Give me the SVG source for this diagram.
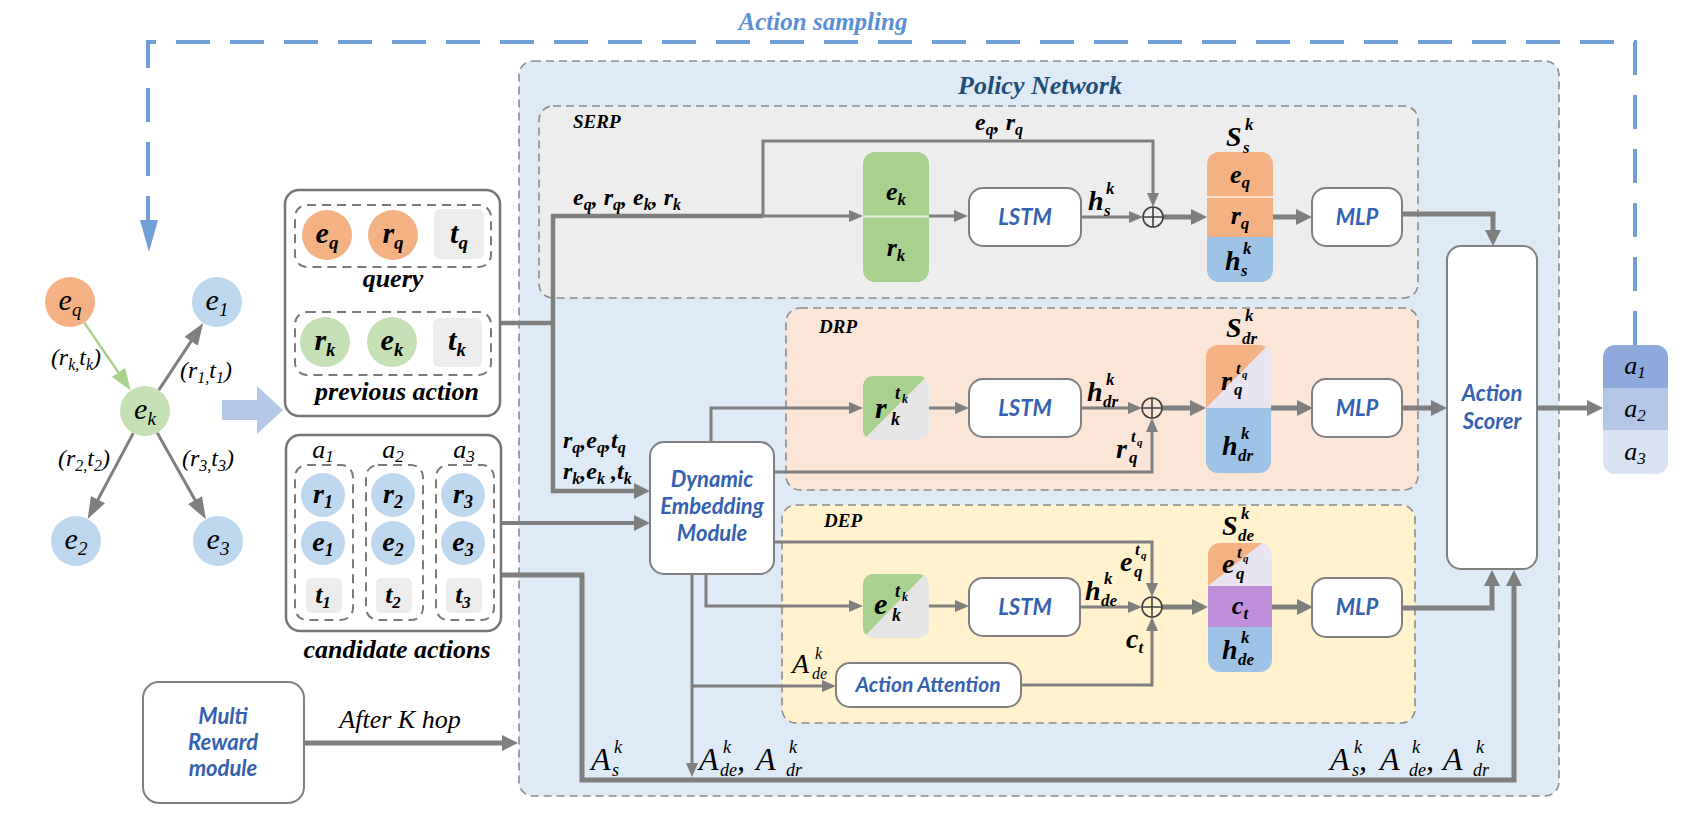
<svg xmlns="http://www.w3.org/2000/svg" width="1704" height="834" viewBox="0 0 1704 834">
<style>
.t{font-family:"Liberation Serif","Times New Roman",serif;fill:#000}
.bi{font-weight:bold;font-style:italic}
.it{font-style:italic}
.lbl{font-family:Lato,"Open Sans",sans-serif;font-weight:bold;font-style:italic;fill:#3461b0;font-size:22px;text-anchor:middle}
.ln{stroke:#7f7f7f;stroke-width:3;fill:none}
.tk{stroke:#7f7f7f;stroke-width:5;fill:none}
.box{fill:#fff;stroke:#808080;stroke-width:2}
.reg{stroke:#8c8c8c;stroke-width:1.6;stroke-dasharray:8 5}
.grp{fill:#fff;stroke:#767676;stroke-width:2.5}
.dsh{fill:none;stroke:#7a7a7a;stroke-width:2;stroke-dasharray:9 6}
.or{fill:#f4b183}.bl{fill:#bdd7ee}.gr{fill:#c5e0b4}.gy{fill:#ececec}
.plus{fill:none;stroke:#404040;stroke-width:1.6}
</style>
<defs>
<marker id="ar" viewBox="0 0 14 12" refX="8" refY="6" markerWidth="14" markerHeight="12" markerUnits="userSpaceOnUse" orient="auto"><path d="M0,0 L14,6 L0,12 z" fill="#7f7f7f"/></marker>
<marker id="arB" viewBox="0 0 16 16" refX="10" refY="8" markerWidth="16" markerHeight="16" markerUnits="userSpaceOnUse" orient="auto"><path d="M0,0 L16,8 L0,16 z" fill="#7f7f7f"/></marker>
<marker id="arL" viewBox="0 0 22 16" refX="16" refY="8" markerWidth="22" markerHeight="16" markerUnits="userSpaceOnUse" orient="auto"><path d="M0,0 L22,8 L0,16 z" fill="#7f7f7f"/></marker>
<marker id="arG" viewBox="0 0 22 16" refX="16" refY="8" markerWidth="22" markerHeight="16" markerUnits="userSpaceOnUse" orient="auto"><path d="M0,0 L22,8 L0,16 z" fill="#a9d18e"/></marker>
<clipPath id="cS"><rect x="1207" y="152" width="66" height="130" rx="12"/></clipPath>
<clipPath id="cDR"><rect x="1206" y="345" width="65" height="128" rx="12"/></clipPath>
<clipPath id="cDE"><rect x="1208" y="543" width="64" height="129" rx="12"/></clipPath>
<clipPath id="cRk"><rect x="863" y="376" width="66" height="64" rx="10"/></clipPath>
<clipPath id="cEk"><rect x="863" y="574" width="66" height="64" rx="10"/></clipPath>
<clipPath id="cA"><rect x="1603" y="345" width="65" height="129" rx="12"/></clipPath>
</defs>

<!-- Action sampling feedback -->
<g id="action-sampling">
<path d="M1635,345 V42 H148 V222" fill="none" stroke="#6f9fd6" stroke-width="4" stroke-dasharray="34 20"/>
<polygon points="140,220 158,220 149,252" fill="#6f9fd6"/>
<text class="t bi" x="823" y="30" font-size="25" text-anchor="middle" style="fill:#5b8fd6">Action sampling</text>
</g>

<!-- Policy network region -->
<g id="policy-network">
<rect x="519" y="61" width="1040" height="735" rx="14" fill="#deeaf6" class="reg"/>
<text class="t bi" x="1040" y="94" font-size="26" text-anchor="middle" style="fill:#1f4e79">Policy Network</text>
</g>
<g id="serp-region">
<rect x="539" y="106" width="879" height="192" rx="14" fill="#ededed" class="reg"/>
<text class="t bi" x="573" y="128" font-size="19">SERP</text>
</g>
<g id="drp-region">
<rect x="786" y="308" width="632" height="182" rx="14" fill="#fbe5d6" class="reg"/>
<text class="t bi" x="819" y="333" font-size="19">DRP</text>
</g>
<g id="dep-region">
<rect x="782" y="505" width="633" height="218" rx="14" fill="#fff2cc" class="reg"/>
<text class="t bi" x="824" y="527" font-size="19">DEP</text>
</g>

<!-- Connectors -->
<g id="connectors">
<path d="M84.2,322.6 L127.4,385.5" fill="none" stroke="#a9d18e" stroke-width="2.5" marker-end="url(#arG)"/>
<path class="ln" d="M158.8,390.1 L199.9,327.9" marker-end="url(#arL)"/>
<path class="ln" d="M133.3,433.1 L90.5,513.6" marker-end="url(#arL)"/>
<path class="ln" d="M157.2,432.8 L202.9,514" marker-end="url(#arL)"/>
<polygon points="222,400 257,400 257,386 283,410 257,434 257,420 222,420" fill="#b4c7e7"/>

<path class="tk" style="stroke-width:4.5" d="M500,323 H553"/>
<path class="tk" style="stroke-width:4.5" d="M763,216 H553 V491 H644" marker-end="url(#arB)"/>
<path class="ln" d="M763,216 H857" marker-end="url(#ar)"/>
<path class="ln" d="M763,216 V141 H1153 V201" marker-end="url(#ar)"/>
<path class="ln" d="M929,216 H962" marker-end="url(#ar)"/>
<path class="ln" d="M1081,217 H1137" marker-end="url(#ar)"/>
<path class="tk" d="M1163,217 H1201" marker-end="url(#arB)"/>
<path class="tk" d="M1273,217 H1306" marker-end="url(#arB)"/>
<path class="tk" d="M1402,214 H1493 V240" marker-end="url(#arB)"/>

<path class="ln" d="M711,442 V408 H857" marker-end="url(#ar)"/>
<path class="ln" d="M929,408 H963" marker-end="url(#ar)"/>
<path class="ln" d="M1081,408 H1136" marker-end="url(#ar)"/>
<path class="ln" d="M774,472 H1152 V424" marker-end="url(#ar)"/>
<path class="tk" d="M1162,408 H1200" marker-end="url(#arB)"/>
<path class="tk" d="M1271,408 H1307" marker-end="url(#arB)"/>
<path class="tk" d="M1401,408 H1441" marker-end="url(#arB)"/>
<path class="tk" d="M1537,408 H1597" marker-end="url(#arB)"/>

<path class="ln" d="M774,542 H1152 V591" marker-end="url(#ar)"/>
<path class="ln" d="M706,574 V606 H857" marker-end="url(#ar)"/>
<path class="ln" d="M929,606 H963" marker-end="url(#ar)"/>
<path class="ln" d="M1080,607 H1136" marker-end="url(#ar)"/>
<path class="ln" d="M1021,685 H1152 V623" marker-end="url(#ar)"/>
<path class="tk" d="M1162,607 H1202" marker-end="url(#arB)"/>
<path class="tk" d="M1272,607 H1307" marker-end="url(#arB)"/>
<path class="tk" d="M1402,608 H1492 V576" marker-end="url(#arB)"/>

<path class="tk" style="stroke-width:4" d="M502,523 H644" marker-end="url(#arB)"/>
<path class="tk" d="M502,575 H582 V780 H1514 V576" marker-end="url(#arB)"/>
<path class="ln" d="M692,574 V771" marker-end="url(#ar)"/>
<path class="ln" d="M692,686 H830" marker-end="url(#ar)"/>
<path class="tk" d="M304,743 H512" marker-end="url(#arB)"/>
</g>

<!-- Plus nodes -->
<g id="plus-serp"><circle class="plus" cx="1153" cy="217" r="10"/><path class="plus" d="M1143,217 H1163 M1153,207 V227"/></g>
<g id="plus-drp"><circle class="plus" cx="1152" cy="408" r="10"/><path class="plus" d="M1142,408 H1162 M1152,398 V418"/></g>
<g id="plus-dep"><circle class="plus" cx="1152" cy="607" r="10"/><path class="plus" d="M1142,607 H1162 M1152,597 V617"/></g>

<!-- Left graph -->
<g id="node-eq"><circle class="or" cx="70" cy="302" r="25"/><text class="t it" x="70" y="310" font-size="30" text-anchor="middle">e<tspan font-size="19" dy="6">q</tspan></text></g>
<g id="node-e1"><circle class="bl" cx="217" cy="302" r="25"/><text class="t it" x="217" y="310" font-size="30" text-anchor="middle">e<tspan font-size="19" dy="6">1</tspan></text></g>
<g id="node-ek"><circle class="gr" cx="145" cy="411" r="25"/><text class="t it" x="145" y="419" font-size="30" text-anchor="middle">e<tspan font-size="19" dy="6">k</tspan></text></g>
<g id="node-e2"><circle class="bl" cx="76" cy="541" r="25"/><text class="t it" x="76" y="549" font-size="30" text-anchor="middle">e<tspan font-size="19" dy="6">2</tspan></text></g>
<g id="node-e3"><circle class="bl" cx="218" cy="541" r="25"/><text class="t it" x="218" y="549" font-size="30" text-anchor="middle">e<tspan font-size="19" dy="6">3</tspan></text></g>
<g id="edge-labels">
<text class="t it" x="76" y="365" font-size="24" text-anchor="middle">(r<tspan font-size="16" dy="5">k,</tspan><tspan dy="-5">t</tspan><tspan font-size="16" dy="5">k</tspan><tspan dy="-5">)</tspan></text>
<text class="t it" x="206" y="378" font-size="24" text-anchor="middle">(r<tspan font-size="16" dy="5">1,</tspan><tspan dy="-5">t</tspan><tspan font-size="16" dy="5">1</tspan><tspan dy="-5">)</tspan></text>
<text class="t it" x="84" y="466" font-size="24" text-anchor="middle">(r<tspan font-size="16" dy="5">2,</tspan><tspan dy="-5">t</tspan><tspan font-size="16" dy="5">2</tspan><tspan dy="-5">)</tspan></text>
<text class="t it" x="208" y="466" font-size="24" text-anchor="middle">(r<tspan font-size="16" dy="5">3,</tspan><tspan dy="-5">t</tspan><tspan font-size="16" dy="5">3</tspan><tspan dy="-5">)</tspan></text>
</g>

<!-- Query / previous action -->
<g id="state-box">
<rect class="grp" x="285" y="190" width="215" height="226" rx="14"/>
<rect class="dsh" x="295" y="205" width="196" height="62" rx="12"/>
<circle class="or" cx="327" cy="235" r="25"/>
<text class="t bi" x="327" y="243" font-size="30" text-anchor="middle">e<tspan font-size="19" dy="6">q</tspan></text>
<circle class="or" cx="393" cy="235" r="25"/>
<text class="t bi" x="393" y="243" font-size="30" text-anchor="middle">r<tspan font-size="19" dy="6">q</tspan></text>
<rect class="gy" x="434" y="209" width="50" height="50" rx="6"/>
<text class="t bi" x="459" y="243" font-size="30" text-anchor="middle">t<tspan font-size="19" dy="6">q</tspan></text>
<text class="t bi" x="393" y="287" font-size="26" text-anchor="middle">query</text>
<rect class="dsh" x="295" y="312" width="196" height="63" rx="12"/>
<circle class="gr" cx="325" cy="342" r="25"/>
<text class="t bi" x="325" y="350" font-size="30" text-anchor="middle">r<tspan font-size="19" dy="6">k</tspan></text>
<circle class="gr" cx="392" cy="342" r="25"/>
<text class="t bi" x="392" y="350" font-size="30" text-anchor="middle">e<tspan font-size="19" dy="6">k</tspan></text>
<rect class="gy" x="433" y="318" width="49" height="49" rx="6"/>
<text class="t bi" x="457" y="350" font-size="30" text-anchor="middle">t<tspan font-size="19" dy="6">k</tspan></text>
<text class="t bi" x="397" y="400" font-size="26" text-anchor="middle">previous action</text>
</g>

<!-- Candidate actions -->
<g id="candidate-actions">
<rect class="grp" x="286" y="435" width="215" height="196" rx="14"/>
<text class="t it" x="323" y="458" font-size="26" text-anchor="middle">a<tspan font-size="17" dy="4">1</tspan></text>
<text class="t it" x="393" y="458" font-size="26" text-anchor="middle">a<tspan font-size="17" dy="4">2</tspan></text>
<text class="t it" x="464" y="458" font-size="26" text-anchor="middle">a<tspan font-size="17" dy="4">3</tspan></text>
<rect class="dsh" x="295" y="465" width="58" height="155" rx="12"/>
<rect class="dsh" x="366" y="465" width="57" height="155" rx="12"/>
<rect class="dsh" x="436" y="465" width="58" height="155" rx="12"/>
<circle class="bl" cx="323" cy="495" r="22"/><text class="t bi" x="323" y="503" font-size="28" text-anchor="middle">r<tspan font-size="18" dy="5">1</tspan></text>
<circle class="bl" cx="323" cy="543" r="22"/><text class="t bi" x="323" y="551" font-size="28" text-anchor="middle">e<tspan font-size="18" dy="5">1</tspan></text>
<rect class="gy" x="306" y="578" width="36" height="35" rx="5"/><text class="t bi" x="323" y="603" font-size="26" text-anchor="middle">t<tspan font-size="17" dy="5">1</tspan></text>
<circle class="bl" cx="393" cy="495" r="22"/><text class="t bi" x="393" y="503" font-size="28" text-anchor="middle">r<tspan font-size="18" dy="5">2</tspan></text>
<circle class="bl" cx="393" cy="543" r="22"/><text class="t bi" x="393" y="551" font-size="28" text-anchor="middle">e<tspan font-size="18" dy="5">2</tspan></text>
<rect class="gy" x="376" y="578" width="36" height="35" rx="5"/><text class="t bi" x="393" y="603" font-size="26" text-anchor="middle">t<tspan font-size="17" dy="5">2</tspan></text>
<circle class="bl" cx="463" cy="495" r="22"/><text class="t bi" x="463" y="503" font-size="28" text-anchor="middle">r<tspan font-size="18" dy="5">3</tspan></text>
<circle class="bl" cx="463" cy="543" r="22"/><text class="t bi" x="463" y="551" font-size="28" text-anchor="middle">e<tspan font-size="18" dy="5">3</tspan></text>
<rect class="gy" x="446" y="578" width="36" height="35" rx="5"/><text class="t bi" x="463" y="603" font-size="26" text-anchor="middle">t<tspan font-size="17" dy="5">3</tspan></text>
<text class="t bi" x="397" y="658" font-size="26" text-anchor="middle">candidate actions</text>
</g>

<!-- Multi reward -->
<g id="multi-reward">
<rect class="box" x="143" y="682" width="161" height="121" rx="16"/>
<text class="lbl" x="223" y="724">Multi</text>
<text class="lbl" x="223" y="750">Reward</text>
<text class="lbl" x="223" y="776">module</text>
<text class="t it" x="400" y="728" font-size="26" text-anchor="middle">After K hop</text>
</g>

<!-- Edge labels in policy network -->
<g id="flow-labels">
<text class="t bi" x="573" y="205" font-size="24">e<tspan font-size="16" dy="5">q</tspan><tspan dy="-5">, r</tspan><tspan font-size="16" dy="5">q</tspan><tspan dy="-5">, e</tspan><tspan font-size="16" dy="5">k</tspan><tspan dy="-5">, r</tspan><tspan font-size="16" dy="5">k</tspan></text>
<text class="t bi" x="999" y="130" font-size="24" text-anchor="middle">e<tspan font-size="16" dy="5">q</tspan><tspan dy="-5">, r</tspan><tspan font-size="16" dy="5">q</tspan></text>
<text class="t bi" x="563" y="448" font-size="24">r<tspan font-size="16" dy="5">q</tspan><tspan dy="-5">,e</tspan><tspan font-size="16" dy="5">q</tspan><tspan dy="-5">,t</tspan><tspan font-size="16" dy="5">q</tspan></text>
<text class="t bi" x="563" y="479" font-size="24">r<tspan font-size="16" dy="5">k</tspan><tspan dy="-5">,e</tspan><tspan font-size="16" dy="5">k</tspan><tspan dy="-5"> ,t</tspan><tspan font-size="16" dy="5">k</tspan></text>
<text class="t bi" x="1088" y="210" font-size="28">h</text><text class="t bi" x="1106" y="194" font-size="17">k</text><text class="t bi" x="1104" y="216" font-size="17">s</text>
<text class="t bi" x="1087" y="401" font-size="28">h</text><text class="t bi" x="1106" y="385" font-size="17">k</text><text class="t bi" x="1103" y="407" font-size="17">dr</text>
<text class="t bi" x="1116" y="458" font-size="28">r</text><text class="t bi" x="1131" y="442" font-size="17">t</text><text class="t bi" x="1137" y="446" font-size="11">q</text><text class="t bi" x="1129" y="463" font-size="17">q</text>
<text class="t bi" x="1120" y="571" font-size="28">e</text><text class="t bi" x="1135" y="555" font-size="17">t</text><text class="t bi" x="1141" y="559" font-size="11">q</text><text class="t bi" x="1134" y="577" font-size="17">q</text>
<text class="t bi" x="1085" y="600" font-size="28">h</text><text class="t bi" x="1104" y="584" font-size="17">k</text><text class="t bi" x="1101" y="606" font-size="17">de</text>
<text class="t bi" x="1126" y="648" font-size="28">c<tspan font-size="17" dy="5">t</tspan></text>
<text class="t it" x="792" y="673" font-size="28">A</text><text class="t it" x="815" y="659" font-size="16">k</text><text class="t it" x="812" y="679" font-size="16">de</text>
<text class="t it" x="591" y="770" font-size="32">A</text><text class="t it" x="614" y="753" font-size="18">k</text><text class="t it" x="612" y="776" font-size="18">s</text>
<text class="t it" x="699" y="770" font-size="32">A</text><text class="t it" x="723" y="753" font-size="18">k</text><text class="t it" x="720" y="776" font-size="18">de<tspan dy="-6" font-size="32">,</tspan></text>
<text class="t it" x="756" y="770" font-size="32">A</text><text class="t it" x="789" y="753" font-size="18">k</text><text class="t it" x="786" y="776" font-size="18">dr</text>
<text class="t it" x="1330" y="770" font-size="32">A</text><text class="t it" x="1354" y="753" font-size="18">k</text><text class="t it" x="1352" y="776" font-size="18">s<tspan dy="-6" font-size="32">,</tspan></text>
<text class="t it" x="1380" y="770" font-size="32">A</text><text class="t it" x="1412" y="753" font-size="18">k</text><text class="t it" x="1409" y="776" font-size="18">de<tspan dy="-6" font-size="32">,</tspan></text>
<text class="t it" x="1443" y="770" font-size="32">A</text><text class="t it" x="1476" y="753" font-size="18">k</text><text class="t it" x="1473" y="776" font-size="18">dr</text>
</g>

<!-- SERP nodes -->
<g id="ek-rk">
<rect x="863" y="152" width="66" height="130" rx="12" fill="#a9d18e"/>
<line x1="863" y1="216.5" x2="929" y2="216.5" stroke="#e2f0d9" stroke-width="2"/>
<text class="t bi" x="896" y="200" font-size="26" text-anchor="middle">e<tspan font-size="17" dy="5">k</tspan></text>
<text class="t bi" x="896" y="256" font-size="26" text-anchor="middle">r<tspan font-size="17" dy="5">k</tspan></text>
</g>
<g id="lstm-serp"><rect class="box" x="969" y="188" width="112" height="58" rx="14"/><text class="lbl" x="1025" y="225">LSTM</text></g>
<g id="s-serp">
<g clip-path="url(#cS)">
<rect x="1207" y="152" width="66" height="85" fill="#f4b183"/>
<rect x="1207" y="237" width="66" height="45" fill="#9dc3e6"/>
</g>
<line x1="1207" y1="197" x2="1273" y2="197" stroke="#fbe0cf" stroke-width="2"/>
<text class="t bi" x="1226" y="146" font-size="28">S</text><text class="t bi" x="1245" y="130" font-size="17">k</text><text class="t bi" x="1243" y="153" font-size="17">s</text>
<text class="t bi" x="1240" y="183" font-size="26" text-anchor="middle">e<tspan font-size="17" dy="5">q</tspan></text>
<text class="t bi" x="1240" y="224" font-size="26" text-anchor="middle">r<tspan font-size="17" dy="5">q</tspan></text>
<text class="t bi" x="1225" y="270" font-size="28">h</text><text class="t bi" x="1243" y="254" font-size="17">k</text><text class="t bi" x="1241" y="276" font-size="17">s</text>
</g>
<g id="mlp-serp"><rect class="box" x="1312" y="188" width="90" height="58" rx="14"/><text class="lbl" x="1357" y="225">MLP</text></g>

<!-- DRP nodes -->
<g id="rk-tk">
<g clip-path="url(#cRk)"><rect x="863" y="376" width="66" height="64" fill="#e7e6e6"/><polygon points="863,376 927,376 863,440" fill="#a9d18e"/></g>
<text class="t bi" x="875" y="418" font-size="30">r</text><text class="t bi" x="895" y="399" font-size="18">t</text><text class="t bi" x="902" y="403" font-size="12">k</text><text class="t bi" x="891" y="425" font-size="18">k</text>
</g>
<g id="lstm-drp"><rect class="box" x="969" y="379" width="112" height="58" rx="14"/><text class="lbl" x="1025" y="416">LSTM</text></g>
<g id="s-drp">
<g clip-path="url(#cDR)">
<rect x="1206" y="345" width="65" height="63" fill="#e9e5f0"/>
<polygon points="1206,345 1268,345 1206,408" fill="#f4b183"/>
<rect x="1206" y="408" width="65" height="65" fill="#9dc3e6"/>
</g>
<text class="t bi" x="1226" y="337" font-size="28">S</text><text class="t bi" x="1245" y="321" font-size="17">k</text><text class="t bi" x="1242" y="344" font-size="17">dr</text>
<text class="t bi" x="1221" y="390" font-size="28">r</text><text class="t bi" x="1236" y="374" font-size="17">t</text><text class="t bi" x="1242" y="378" font-size="11">q</text><text class="t bi" x="1234" y="395" font-size="17">q</text>
<text class="t bi" x="1222" y="455" font-size="28">h</text><text class="t bi" x="1241" y="439" font-size="17">k</text><text class="t bi" x="1238" y="461" font-size="17">dr</text>
</g>
<g id="mlp-drp"><rect class="box" x="1312" y="379" width="90" height="58" rx="14"/><text class="lbl" x="1357" y="416">MLP</text></g>

<!-- DEP nodes -->
<g id="ek-tk">
<g clip-path="url(#cEk)"><rect x="863" y="574" width="66" height="64" fill="#e7e6e6"/><polygon points="863,574 925,574 863,638" fill="#a9d18e"/></g>
<text class="t bi" x="874" y="614" font-size="30">e</text><text class="t bi" x="895" y="597" font-size="18">t</text><text class="t bi" x="902" y="601" font-size="12">k</text><text class="t bi" x="892" y="621" font-size="18">k</text>
</g>
<g id="lstm-dep"><rect class="box" x="969" y="578" width="111" height="58" rx="14"/><text class="lbl" x="1025" y="615">LSTM</text></g>
<g id="action-attention"><rect class="box" x="836" y="663" width="185" height="44" rx="14"/><text class="lbl" x="928" y="692" style="font-size:21px">Action Attention</text></g>
<g id="s-dep">
<g clip-path="url(#cDE)">
<rect x="1208" y="543" width="64" height="43" fill="#e9e5f0"/>
<polygon points="1208,543 1262,543 1208,586" fill="#f4b183"/>
<rect x="1208" y="586" width="64" height="41" fill="#bf8fd9"/>
<rect x="1208" y="627" width="64" height="45" fill="#9dc3e6"/>
</g>
<text class="t bi" x="1222" y="535" font-size="28">S</text><text class="t bi" x="1241" y="519" font-size="17">k</text><text class="t bi" x="1238" y="541" font-size="17">de</text>
<text class="t bi" x="1222" y="573" font-size="28">e</text><text class="t bi" x="1237" y="558" font-size="17">t</text><text class="t bi" x="1243" y="562" font-size="11">q</text><text class="t bi" x="1236" y="579" font-size="17">q</text>
<text class="t bi" x="1240" y="614" font-size="26" text-anchor="middle">c<tspan font-size="17" dy="5">t</tspan></text>
<text class="t bi" x="1222" y="659" font-size="28">h</text><text class="t bi" x="1241" y="643" font-size="17">k</text><text class="t bi" x="1238" y="665" font-size="17">de</text>
</g>
<g id="mlp-dep"><rect class="box" x="1312" y="578" width="90" height="59" rx="14"/><text class="lbl" x="1357" y="615">MLP</text></g>

<!-- Dynamic embedding module -->
<g id="dynamic-embedding">
<rect class="box" x="650" y="442" width="124" height="132" rx="14"/>
<text class="lbl" x="712" y="487">Dynamic</text>
<text class="lbl" x="712" y="514">Embedding</text>
<text class="lbl" x="712" y="541">Module</text>
</g>

<!-- Action scorer -->
<g id="action-scorer">
<rect class="box" x="1447" y="246" width="90" height="323" rx="14"/>
<text class="lbl" x="1492" y="401">Action</text>
<text class="lbl" x="1492" y="429">Scorer</text>
</g>

<!-- Action output -->
<g id="action-output">
<g clip-path="url(#cA)">
<rect x="1603" y="345" width="65" height="43" fill="#8eaadb"/>
<rect x="1603" y="388" width="65" height="42" fill="#b4c6e7"/>
<rect x="1603" y="430" width="65" height="44" fill="#dae3f3"/>
</g>
<text class="t it" x="1635" y="374" font-size="26" text-anchor="middle">a<tspan font-size="17" dy="4">1</tspan></text>
<text class="t it" x="1635" y="417" font-size="26" text-anchor="middle">a<tspan font-size="17" dy="4">2</tspan></text>
<text class="t it" x="1635" y="460" font-size="26" text-anchor="middle">a<tspan font-size="17" dy="4">3</tspan></text>
</g>
</svg>
